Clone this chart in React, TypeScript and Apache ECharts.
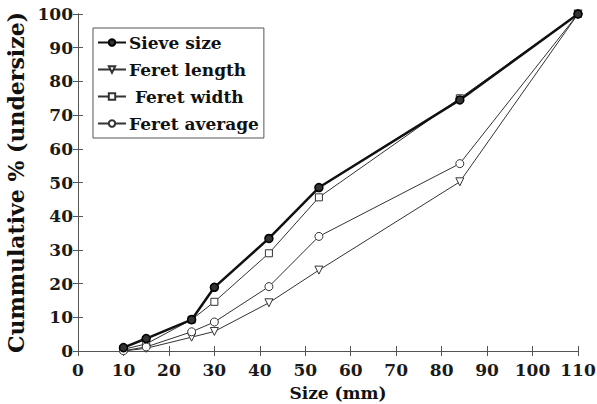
import React, { useEffect, useRef } from "react";
import * as echarts from "echarts";

const sizes = [10, 15, 25, 30, 42, 53, 84, 110];
const sieveSize = [1.0, 3.7, 9.3, 18.9, 33.4, 48.5, 74.5, 100];
const feretLength = [0, 0.8, 4.1, 5.8, 14.3, 24.0, 50.2, 100];
const feretWidth = [0.5, 2.1, 9.3, 14.6, 29.0, 45.6, 75.0, 100];
const feretAverage = [0.1, 1.2, 5.7, 8.6, 19.1, 34.0, 55.6, 100];

const xTicks = [0, 10, 20, 30, 40, 50, 60, 70, 80, 90, 100, 110];

const FONT = "DejaVu Serif";

const pair = (ys: number[]) => sizes.map((x, i) => [x, ys[i]]);

export default function App() {
  const ref = useRef<HTMLDivElement>(null);
  useEffect(() => {
    if (!ref.current) return;
    const chart = echarts.init(ref.current, undefined, { renderer: "svg" });
    const axisLine = { show: true, lineStyle: { color: "#555", width: 1 } };
    const tick = { show: true, inside: true, length: 5, lineStyle: { color: "#555" } };
    const labelStyle = { fontFamily: FONT, fontWeight: "bold" as const, fontSize: 17, color: "#1a1a1a" };
    const thin = { color: "#333", width: 1 };
    chart.setOption({
      animation: false,
      backgroundColor: "#fff",
      grid: { left: 78, right: 19, top: 14, bottom: 53, containLabel: false, outerBoundsMode: "none" },
      legend: {
        orient: "vertical",
        left: 93,
        top: 28,
        padding: [6, 5, 6, 4],
        itemGap: 10,
        itemWidth: 28,
        itemHeight: 8,
        borderColor: "#555",
        borderWidth: 1,
        backgroundColor: "#fff",
        textStyle: { fontFamily: FONT, fontWeight: "bold", fontSize: 17, color: "#111", padding: [0, 0, 0, -2] },
        data: ["Sieve size", "Feret length", " Feret width", "Feret average"],
      },
      xAxis: [
        {
          type: "value",
          min: 0,
          max: 110,
          interval: 10,
          name: "Size (mm)",
          nameLocation: "middle",
          nameGap: 33,
          nameTextStyle: { fontFamily: FONT, fontWeight: "bold", fontSize: 17, color: "#111", padding: [0, 0, 0, 20] },
          axisLine,
          axisTick: tick,
          splitLine: { show: false },
          axisLabel: { ...labelStyle, margin: 10, customValues: xTicks },
        },
        {
          type: "value",
          position: "top",
          min: 0,
          max: 110,
          interval: 10,
          axisLine,
          axisTick: tick,
          splitLine: { show: false },
          axisLabel: { show: false },
        },
      ],
      yAxis: [
        {
          type: "value",
          min: 0,
          max: 100,
          interval: 10,
          name: "Cummulative % (undersize)",
          nameLocation: "middle",
          nameGap: 50,
          nameTextStyle: { fontFamily: FONT, fontWeight: "bold", fontSize: 22, color: "#111" },
          axisLine,
          axisTick: tick,
          splitLine: { show: false },
          axisLabel: { ...labelStyle, margin: 5 },
        },
        {
          type: "value",
          position: "right",
          min: 0,
          max: 100,
          interval: 10,
          axisLine,
          axisTick: tick,
          splitLine: { show: false },
          axisLabel: { show: false },
        },
      ],
      series: [
        {
          name: "Sieve size",
          type: "line",
          data: pair(sieveSize),
          symbol: "circle",
          symbolSize: 8,
          lineStyle: { color: "#111", width: 2.5 },
          itemStyle: { color: "#333", borderColor: "#000", borderWidth: 1.5 },
          z: 5,
        },
        {
          name: "Feret length",
          type: "line",
          data: pair(feretLength),
          symbol: "triangle",
          symbolRotate: 180,
          symbolSize: 8,
          lineStyle: thin,
          itemStyle: { color: "#fff", borderColor: "#333", borderWidth: 1 },
        },
        {
          name: " Feret width",
          type: "line",
          data: pair(feretWidth),
          symbol: "rect",
          symbolSize: 7,
          lineStyle: thin,
          itemStyle: { color: "#fff", borderColor: "#333", borderWidth: 1 },
        },
        {
          name: "Feret average",
          type: "line",
          data: pair(feretAverage),
          symbol: "circle",
          symbolSize: 8,
          lineStyle: thin,
          itemStyle: { color: "#fff", borderColor: "#333", borderWidth: 1 },
        },
      ],
    });
    return () => chart.dispose();
  }, []);
  return <div ref={ref} style={{ width: 597, height: 404, position: "absolute", left: 0, top: 0 }} />;
}
